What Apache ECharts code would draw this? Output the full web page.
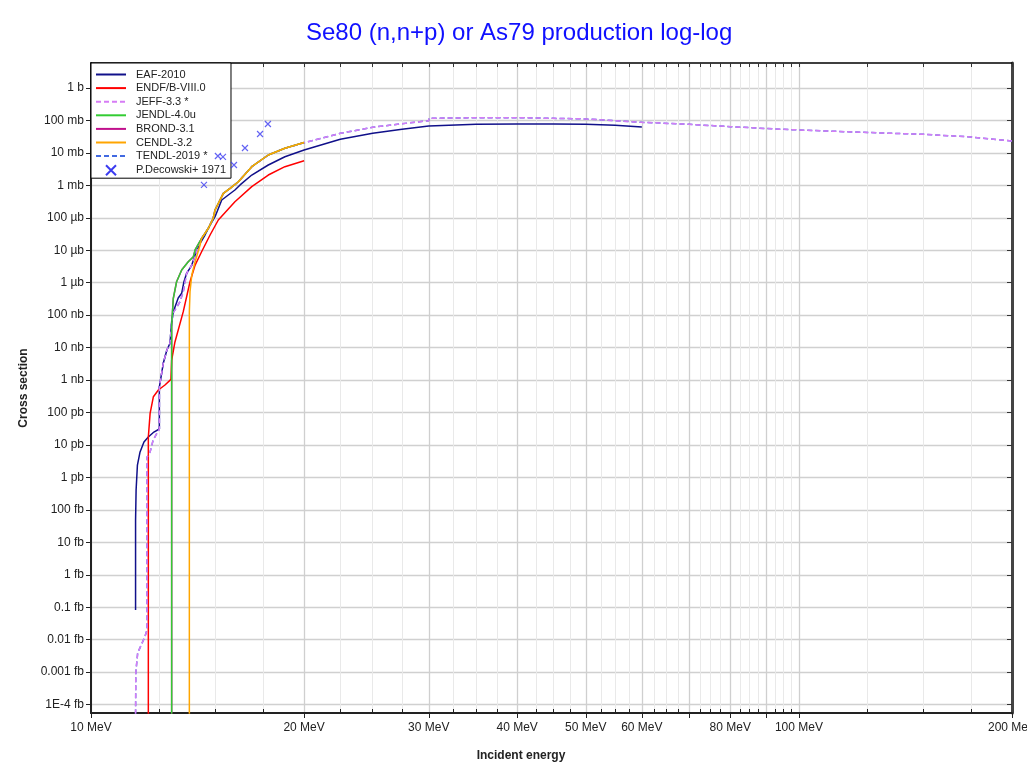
<!DOCTYPE html>
<html><head><meta charset="utf-8">
<script src="https://cdn.jsdelivr.net/npm/echarts@6/dist/echarts.min.js"></script>
<style>html,body{margin:0;padding:0;background:#fff}#c{width:1027px;height:773px}</style>
</head><body><div id="c"></div>
<script>
// ---------- data ----------
const titleText = 'Se80 (n,n+p) or As79 production log-log';
const seriesNames = ['EAF-2010','ENDF/B-VIII.0','JEFF-3.3 *','JENDL-4.0u','BROND-3.1','CENDL-3.2','TENDL-2019 *','P.Decowski+ 1971'];

const eafE  = [11.56, 11.56, 11.58, 11.63, 11.73, 11.88, 12.05, 12.27, 12.49, 12.49, 12.65, 12.80, 12.93, 13.00, 13.07, 13.28, 13.43, 13.53, 13.65, 13.88, 14.03, 14.26, 14.49, 14.73, 14.97, 15.30, 15.63, 15.97, 16.24, 16.87, 17.80, 18.79, 20.0, 22.5, 25.0, 27.5, 30.0, 35.0, 40.0, 45.0, 50.0, 55.0, 60.0];
const eafXS = [8.2e-17, 4.9e-14, 4.1e-13, 2.4e-12, 6.1e-12, 1.23e-11, 1.76e-11, 2.5e-11, 3.1e-11, 6.1e-10, 3.28e-9, 8.4e-9, 1.36e-8, 6.3e-8, 1.28e-7, 3.38e-7, 4.71e-7, 1.07e-6, 1.95e-6, 3.5e-6, 7.1e-6, 1.64e-5, 2.95e-5, 6.0e-5, 1.08e-4, 3.54e-4, 5.04e-4, 7.19e-4, 1.03e-3, 2.08e-3, 4.24e-3, 7.63e-3, 1.23e-2, 2.62e-2, 4.02e-2, 5.34e-2, 6.75e-2, 7.61e-2, 7.77e-2, 7.75e-2, 7.6e-2, 7.05e-2, 6.28e-2];

const endfE  = [12.05, 12.05, 12.12, 12.25, 12.45, 12.72, 12.97, 13.00, 13.14, 13.50, 13.80, 14.03, 14.33, 14.73, 15.13, 15.97, 16.87, 17.80, 18.79, 20.0];
const endfXS = [1e-20, 1.76e-11, 9.4e-11, 3.07e-10, 4.93e-10, 7.03e-10, 1.05e-9, 4.15e-9, 1.49e-8, 1.28e-7, 1.07e-6, 3.5e-6, 9.0e-6, 2.95e-5, 8.55e-5, 3.13e-4, 9.1e-4, 2.08e-3, 3.76e-3, 5.75e-3];

const jeffE  = [11.56, 11.57, 11.64, 11.91, 12.00, 12.00, 12.12, 12.24, 12.49, 12.49, 12.65, 12.80, 12.93, 13.00, 13.07, 13.36, 13.50, 13.65, 13.88, 14.33, 14.65, 14.88, 14.97, 15.38, 15.72, 16.15, 16.87, 17.80, 18.79, 20.0, 22.5, 25.0, 27.5, 30.0, 30.01, 35.0, 40.0, 45.0, 50.0, 60.0, 70.0, 80.0, 90.0, 100.0, 125.0, 150.0, 175.0, 200.0];
const jeffXS = [5e-20, 1e-18, 3.9e-18, 1.2e-17, 2e-17, 4.2e-12, 6.1e-12, 1.42e-11, 3.1e-11, 6.1e-10, 3.28e-9, 8.4e-9, 1.36e-8, 6.0e-8, 1.2e-7, 2.6e-7, 5.3e-7, 1.95e-6, 3.5e-6, 2.33e-5, 4.75e-5, 9.65e-5, 1.74e-4, 5.69e-4, 8.11e-4, 1.29e-3, 3.76e-3, 8.61e-3, 1.39e-2, 2.06e-2, 4.02e-2, 6.15e-2, 7.94e-2, 9.83e-2, 0.1165, 0.121, 0.122, 0.116, 0.111, 0.0877, 0.076, 0.0642, 0.0565, 0.0508, 0.0425, 0.0374, 0.0309, 0.0233];

const jendlE  = [13.00, 13.00, 13.07, 13.21, 13.43, 13.72, 13.95, 14.03, 14.33, 14.65, 14.88, 14.97, 15.38, 15.72, 16.15, 16.87, 17.80, 18.79, 20.0];
const jendlXS = [1e-20, 4.97e-8, 3.3e-7, 1.07e-6, 2.46e-6, 4.44e-6, 6.33e-6, 1.02e-5, 2.33e-5, 4.75e-5, 9.65e-5, 1.74e-4, 5.69e-4, 8.11e-4, 1.29e-3, 3.76e-3, 8.61e-3, 1.39e-2, 2.09e-2];

const brondE  = [13.00, 13.00, 13.07, 13.21, 13.43, 13.72, 13.95, 14.03, 14.33, 14.65, 14.88, 14.97, 15.38, 15.72, 16.15, 16.87, 17.80, 18.79, 20.0];
const brondXS = [1e-20, 4.97e-8, 3.3e-7, 1.07e-6, 2.46e-6, 4.44e-6, 6.33e-6, 1.02e-5, 2.33e-5, 4.75e-5, 9.65e-5, 1.74e-4, 5.69e-4, 8.11e-4, 1.29e-3, 3.76e-3, 8.61e-3, 1.39e-2, 2.09e-2];

const cendlE  = [13.77, 13.77, 13.80, 13.88, 14.03, 14.26, 14.33, 14.65, 14.88, 14.97, 15.38, 15.72, 16.15, 16.87, 17.80, 18.79, 20.0];
const cendlXS = [1e-20, 1.28e-7, 5.28e-7, 1.73e-6, 4.44e-6, 1.45e-5, 2.33e-5, 4.75e-5, 9.65e-5, 1.74e-4, 5.69e-4, 8.11e-4, 1.29e-3, 3.76e-3, 8.61e-3, 1.39e-2, 2.09e-2];

const tendlE  = [11.56, 11.57, 11.64, 11.91, 12.00, 12.00, 12.12, 12.24, 12.49, 12.49, 12.65, 12.80, 12.93, 13.00, 13.07, 13.36, 13.50, 13.65, 13.88, 14.33, 14.65, 14.88, 14.97, 15.38, 15.72, 16.15, 16.87, 17.80, 18.79, 20.0, 22.5, 25.0, 27.5, 30.0, 30.01, 35.0, 40.0, 45.0, 50.0, 60.0, 70.0, 80.0, 90.0, 100.0, 125.0, 150.0, 175.0, 200.0];
const tendlXS = [5e-20, 1e-18, 3.9e-18, 1.2e-17, 2e-17, 4.2e-12, 6.1e-12, 1.42e-11, 3.1e-11, 6.1e-10, 3.28e-9, 8.4e-9, 1.36e-8, 6.0e-8, 1.2e-7, 2.6e-7, 5.3e-7, 1.95e-6, 3.5e-6, 2.33e-5, 4.75e-5, 9.65e-5, 1.74e-4, 5.69e-4, 8.11e-4, 1.29e-3, 3.76e-3, 8.61e-3, 1.39e-2, 2.06e-2, 4.02e-2, 6.15e-2, 7.94e-2, 9.83e-2, 0.1165, 0.121, 0.122, 0.116, 0.111, 0.0877, 0.076, 0.0642, 0.0565, 0.0508, 0.0425, 0.0374, 0.0309, 0.0233];

const decE  = [14.44, 15.11, 15.36, 15.92, 16.50, 17.33, 17.78];
const decXS = [1.03e-3, 8.0e-3, 7.5e-3, 4.24e-3, 1.42e-2, 3.82e-2, 7.78e-2];

const xMajorTicks = [10, 20, 30, 40, 50, 60, 70, 80, 90, 100, 200];
const xLabelTicks = [10, 20, 30, 40, 50, 60, 80, 100, 200];
const xMinorTicks = [12.5, 15, 17.5, 22.5, 25, 27.5, 32.5, 35, 37.5, 42.5, 45, 47.5, 52.5, 55, 57.5, 62.5, 65, 67.5, 72.5, 75, 77.5, 82.5, 85, 87.5, 92.5, 95, 97.5, 125, 150, 175];
const yTickValues = [1, 1e-1, 1e-2, 1e-3, 1e-4, 1e-5, 1e-6, 1e-7, 1e-8, 1e-9, 1e-10, 1e-11, 1e-12, 1e-13, 1e-14, 1e-15, 1e-16, 1e-17, 1e-18, 1e-19];
const yTickLabels = ['1 b', '100 mb', '10 mb', '1 mb', '100 µb', '10 µb', '1 µb', '100 nb', '10 nb', '1 nb', '100 pb', '10 pb', '1 pb', '100 fb', '10 fb', '1 fb', '0.1 fb', '0.01 fb', '0.001 fb', '1E-4 fb'];

// ---------- chart ----------
const FONT = '"Liberation Sans", Arial, sans-serif';
function zip(a, b) { return a.map((v, i) => [v, b[i]]); }
function yFmt(v) {
  const k = Math.round(Math.log10(v));
  const i = yTickValues.findIndex(t => Math.round(Math.log10(t)) === k);
  return i >= 0 ? yTickLabels[i] : '';
}
const Y_MIN = 5.5e-20, Y_MAX = 5.89;
const chart = echarts.init(document.getElementById('c'), null, { renderer: 'canvas' });

function lineSeries(name, E, XS, color, dashed, width) {
  return {
    name: name, type: 'line', data: zip(E, XS), symbol: 'none', clip: true,
    xAxisIndex: 0, yAxisIndex: 0,
    lineStyle: { color: color, width: width || 1.5, type: dashed ? [5, 3] : 'solid' },
    itemStyle: { color: color }, emphasis: { disabled: true }
  };
}

const legendData = seriesNames.map(n => n === 'P.Decowski+ 1971'
  ? { name: n, itemStyle: { opacity: 1 } }
  : { name: n });

const option = {
  animation: false,
  backgroundColor: '#fff',
  title: {
    text: titleText, left: 306, top: 21, padding: 0,
    textStyle: { color: '#1010ff', fontSize: 24, fontWeight: 'normal', fontFamily: FONT }
  },
  grid: { left: 91, right: 15, top: 63, bottom: 60, containLabel: false, outerBoundsMode: 'none' },
  legend: {
    data: legendData, orient: 'vertical', left: 91, top: 63,
    itemWidth: 30, itemHeight: 10, itemGap: 2.6, itemTextGap: 10,
    padding: [6, 5, 2, 4], backgroundColor: '#fff', borderColor: '#000', borderWidth: 1, borderRadius: 0,
    itemStyle: { opacity: 0 },
    lineStyle: { width: 2 },
    textStyle: { fontSize: 11, color: '#222', fontFamily: FONT, padding: [0, 0, 0, 5] }, z: 1, selectedMode: false
  },
  xAxis: [
    {
      type: 'log', min: 10, max: 200, position: 'bottom',
      name: 'Incident energy', nameLocation: 'middle', nameGap: 37,
      nameTextStyle: { fontWeight: 'bold', fontSize: 12, color: '#222', fontFamily: FONT, padding: [0, 61, 0, 0] },
      axisLine: { show: true, onZero: false, lineStyle: { color: '#222', width: 2 } },
      axisTick: { show: true, customValues: xMajorTicks, length: 5, inside: false, lineStyle: { color: '#222', width: 1 } },
      axisLabel: { show: true, customValues: xLabelTicks, formatter: v => Math.round(v) + ' MeV', fontSize: 12, color: '#222', fontFamily: FONT, margin: 9 },
      splitLine: { show: true, lineStyle: { color: '#cfcfcf', width: 1.3 } },
      minorTick: { show: false }, minorSplitLine: { show: false }
    },
    {
      type: 'log', min: 10, max: 200, position: 'bottom',
      axisLine: { show: false, onZero: false },
      axisTick: { show: true, customValues: xMinorTicks, inside: true, length: 4, lineStyle: { color: '#222', width: 1 } },
      axisLabel: { show: false },
      splitLine: { show: true, lineStyle: { color: '#e9e9e9', width: 1 } }
    },
    {
      type: 'log', min: 10, max: 200, position: 'top',
      axisLine: { show: true, onZero: false, lineStyle: { color: '#000', width: 1.5 } },
      axisTick: { show: true, customValues: xMajorTicks.concat(xMinorTicks), inside: true, length: 4, lineStyle: { color: '#333', width: 1 } },
      axisLabel: { show: false },
      splitLine: { show: false }
    }
  ],
  yAxis: [
    {
      type: 'log', min: Y_MIN, max: Y_MAX, position: 'left',
      name: 'Cross section', nameLocation: 'middle', nameGap: 58,
      nameTextStyle: { fontWeight: 'bold', fontSize: 12, color: '#222', fontFamily: FONT },
      axisLine: { show: true, onZero: false, lineStyle: { color: '#222', width: 2 } },
      axisTick: { show: true, customValues: yTickValues, length: 5, lineStyle: { color: '#222', width: 1 } },
      axisLabel: { show: true, customValues: yTickValues, formatter: yFmt, fontSize: 12, color: '#222', fontFamily: FONT, margin: 7 },
      splitLine: { show: true, lineStyle: { color: '#d0d0d0', width: 1.3 } }
    },
    {
      type: 'log', min: Y_MIN, max: Y_MAX, position: 'right',
      axisLine: { show: true, onZero: false, lineStyle: { color: '#444', width: 3 } },
      axisTick: { show: true, customValues: yTickValues, inside: true, length: 5, lineStyle: { color: '#333', width: 1 } },
      axisLabel: { show: false },
      splitLine: { show: false }
    }
  ],
  series: [
    lineSeries('TENDL-2019 *', tendlE, tendlXS, '#4169e1', true),
    lineSeries('BROND-3.1', brondE, brondXS, '#c0108c', false),
    lineSeries('EAF-2010', eafE, eafXS, '#10108a', false),
    lineSeries('ENDF/B-VIII.0', endfE, endfXS, '#ff0000', false),
    lineSeries('JEFF-3.3 *', jeffE, jeffXS, '#d67cf5', true),
    lineSeries('JENDL-4.0u', jendlE, jendlXS, '#33cc33', false),
    lineSeries('CENDL-3.2', cendlE, cendlXS, '#ffa500', false),
    {
      name: 'P.Decowski+ 1971', type: 'scatter', data: zip(decE, decXS),
      xAxisIndex: 0, yAxisIndex: 0,
      symbol: 'path://M0,0L10,10M10,0L0,10', symbolSize: 6,
      itemStyle: { color: '#3c3cf0', borderColor: '#3c3cf0', borderWidth: 1.2 },
      emphasis: { disabled: true }, z: 5
    }
  ]
};
chart.setOption(option);
</script></body></html>
